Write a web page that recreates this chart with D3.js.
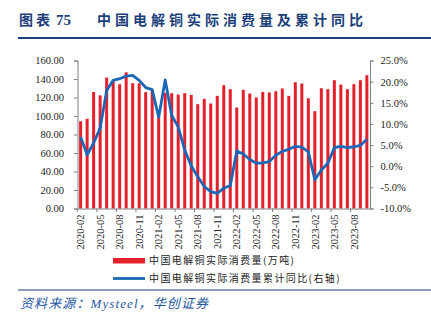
<!DOCTYPE html>
<html>
<head>
<meta charset="utf-8">
<script src="https://cdn.jsdelivr.net/npm/d3@7"></script>
<style>
  body { margin: 0; background: #fff; }
  svg { display: block; }
  .tick-label { font-family: "Liberation Serif", "Times New Roman", serif; font-size: 10.5px; fill: #222; }
  .cjk { font-family: "Noto Sans CJK SC", sans-serif; }
</style>
</head>
<body>
<svg id="mainCanvas" width="431" height="321"></svg>
<script>
// months 2020-02 .. 2023-10
const months = [];
for (let y = 2020; y <= 2023; y++) {
    for (let m = 1; m <= 12; m++) {
        if (y === 2020 && m < 2) continue;
        if (y === 2023 && m > 10) continue;
        months.push(y + "-" + String(m).padStart(2, "0"));
    }
}
// 中国电解铜实际消费量(万吨)
const consumption = [94.3, 97, 126, 122.3, 141.5, 138, 134.3, 147.2, 135.5, 135.4, 125.8, 128.5,
    99, 125, 124.6, 123.2, 124.6, 122.8, 112.8, 118.5, 113.5, 121.8, 133.3, 129,
    109.2, 128.3, 124.3, 120, 126, 125.5, 126.8, 129.7, 121.8, 136.5, 135.1, 119.2,
    105.2, 130, 129, 138.7, 134, 129, 134.4, 138.7, 144.1];
// 累计同比 (%)
const cumYoY = [6.9, 2.7, 5.5, 9.0, 17.9, 20.3, 20.7, 21.3, 21.5, 20.3, 18.6, 18.1,
    11.6, 20.4, 12.0, 9.3, 3.8, 0.1, -2.5, -4.8, -6.0, -6.4, -5.2, -4.6,
    3.6, 2.9, 1.6, 0.7, 0.8, 1.1, 2.6, 3.5, 4.0, 4.7, 4.5, 3.4,
    -3.2, -0.9, 0.7, 4.4, 4.7, 4.4, 4.6, 4.9, 6.4];
const leftTicks = [0, 20, 40, 60, 80, 100, 120, 140, 160];
const rightTicks = [-10, -5, 0, 5, 10, 15, 20, 25];
const shownLabels = months.filter(function (d, i) { return i % 3 === 0; });

const navy = "#1b3f7a";
const red = "#e5202b";
const blue = "#1a67b7";
const axisGray = "#7f7f7f";

const svg = d3.select("svg#mainCanvas");

// title
const title = svg.append("text")
    .attr("x", 19)
    .attr("y", 25)
    .attr("fill", navy)
    .attr("font-weight", "bold")
    .attr("font-size", "14px");
title.append("tspan").attr("class", "cjk").attr("letter-spacing", "3px").text("图表");
title.append("tspan").attr("font-family", "Liberation Serif, serif").attr("font-size", "15px").attr("dx", 3).text("75");
title.append("tspan").attr("class", "cjk").attr("x", 97).attr("letter-spacing", "4px").text("中国电解铜实际消费量及累计同比");

svg.append("line")
    .attr("x1", 18).attr("x2", 431)
    .attr("y1", 38).attr("y2", 38)
    .attr("stroke", navy).attr("stroke-width", 2);

// scales
const x = d3.scaleBand()
    .domain(months)
    .range([77.5, 370])
    .paddingInner(0.54)
    .paddingOuter(0.25);
const yL = d3.scaleLinear().domain([0, 160]).range([208.5, 60.5]);
const yR = d3.scaleLinear().domain([-10, 25]).range([208.5, 60.5]);

// bars
svg.append("g")
    .selectAll("rect")
    .data(consumption)
    .join("rect")
    .attr("x", function (d, i) { return x(months[i]); })
    .attr("y", function (d) { return yL(d); })
    .attr("width", x.bandwidth())
    .attr("height", function (d) { return yL(0) - yL(d); })
    .attr("fill", red);

// axes
const leftAxis = svg.append("g")
    .attr("transform", "translate(77.5,0)")
    .call(d3.axisLeft(yL).tickValues(leftTicks).tickSize(3.5).tickPadding(10)
        .tickFormat(function (d) { return d.toFixed(2); }));
const rightAxis = svg.append("g")
    .attr("transform", "translate(370,0)")
    .call(d3.axisRight(yR).tickValues(rightTicks).tickSize(3.5).tickPadding(7)
        .tickFormat(function (d) { return d.toFixed(1) + "%"; }));
const bottomAxis = svg.append("g")
    .attr("transform", "translate(0,208.5)")
    .call(d3.axisBottom(x).tickValues(shownLabels).tickSize(0).tickSizeOuter(0));

[leftAxis, rightAxis].forEach(function (g) {
    g.select(".domain").attr("stroke", axisGray);
    g.selectAll(".tick line").attr("stroke", axisGray);
    g.selectAll(".tick text").attr("class", "tick-label");
});
bottomAxis.select(".domain").attr("stroke", axisGray);
bottomAxis.selectAll(".tick text")
    .attr("class", "tick-label")
    .attr("transform", "rotate(-90)")
    .attr("text-anchor", "end")
    .attr("x", -6)
    .attr("y", 0)
    .attr("dy", "0.35em");
// ticks at the left edge of each labelled band
bottomAxis.selectAll("line.band-tick")
    .data(shownLabels)
    .join("line")
    .attr("class", "band-tick")
    .attr("x1", function (d) { return x(d) - x.step() * x.paddingInner() / 2; })
    .attr("x2", function (d) { return x(d) - x.step() * x.paddingInner() / 2; })
    .attr("y1", 0).attr("y2", 3.5)
    .attr("stroke", axisGray);

// line
const line = d3.line()
    .x(function (d, i) { return x(months[i]) + x.bandwidth() / 2; })
    .y(function (d) { return yR(d); });
svg.append("path")
    .datum(cumYoY)
    .attr("d", line)
    .attr("fill", "none")
    .attr("stroke", blue)
    .attr("stroke-width", 2.8)
    .attr("stroke-linejoin", "round");

// legend
svg.append("rect")
    .attr("x", 113).attr("y", 258)
    .attr("width", 32).attr("height", 5.5)
    .attr("fill", red);
svg.append("text")
    .attr("class", "cjk")
    .attr("x", 149).attr("y", 264)
    .attr("font-size", "10px").attr("letter-spacing", "1.4px")
    .attr("fill", "#222")
    .text("中国电解铜实际消费量(万吨)");
svg.append("line")
    .attr("x1", 113).attr("x2", 145)
    .attr("y1", 278.5).attr("y2", 278.5)
    .attr("stroke", blue).attr("stroke-width", 2.8);
svg.append("text")
    .attr("class", "cjk")
    .attr("x", 149).attr("y", 282)
    .attr("font-size", "10px").attr("letter-spacing", "1.4px")
    .attr("fill", "#222")
    .text("中国电解铜实际消费量累计同比(右轴)");

// source
svg.append("line")
    .attr("x1", 18).attr("x2", 431)
    .attr("y1", 290).attr("y2", 290)
    .attr("stroke", navy).attr("stroke-width", 1.2);
svg.append("text")
    .attr("x", 20).attr("y", 308)
    .attr("font-family", "Liberation Serif, Noto Sans CJK SC, serif")
    .attr("font-style", "italic")
    .attr("font-size", "13px")
    .attr("letter-spacing", "1.1px")
    .attr("fill", "#2456a4")
    .text("资料来源：Mysteel，华创证券");
</script>
</body>
</html>
